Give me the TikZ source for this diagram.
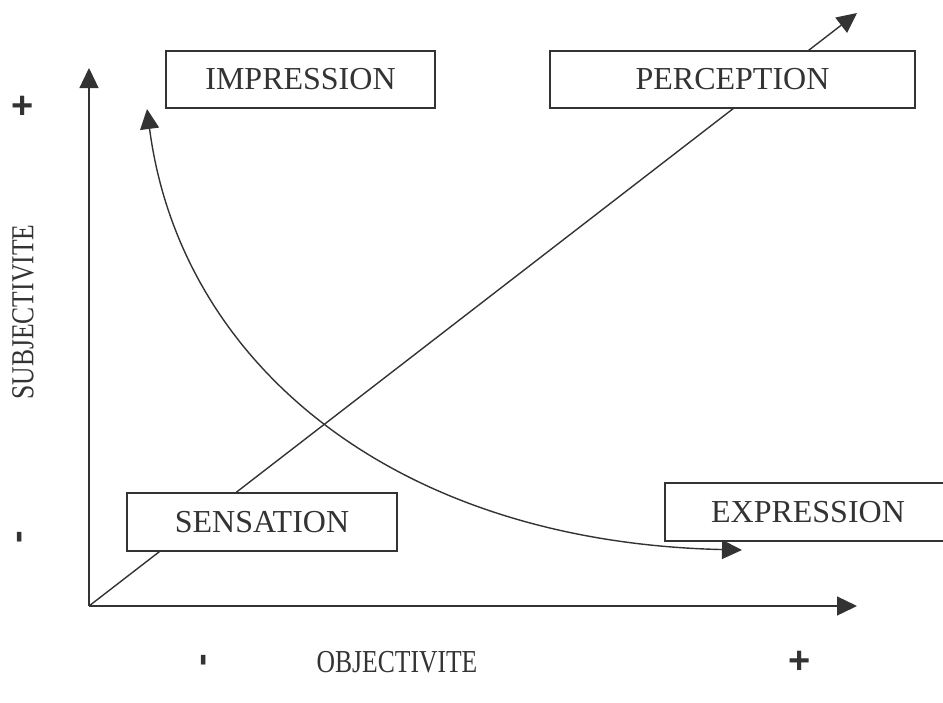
\documentclass[tikz,border=0pt]{standalone}
\usepackage{fontspec}
\setmainfont{Liberation Serif}
\newfontfamily\signfont{Liberation Sans}
\usetikzlibrary{arrows.meta}
\definecolor{ink}{HTML}{333333}
\tikzset{
  stage/.style={draw=ink, fill=white, line width=1.4pt, rectangle, inner sep=0pt,
    minimum height=57pt, text=ink, font=\fontsize{32}{38}\selectfont},
  axislabel/.style={text=ink, inner sep=0pt, font=\fontsize{32}{38}\selectfont},
  sign/.style={text=ink, inner sep=0pt, font=\signfont\bfseries\fontsize{38}{40}\selectfont},
  tip/.style={Triangle[length=20pt,width=19pt]},
  link/.style={draw=ink, line width=1.4pt, -{Triangle[length=20pt,width=19pt]}},
}
\begin{document}
\begin{tikzpicture}[x=1pt,y=-1pt]
\useasboundingbox (0,0) rectangle (943,702);
\clip (0,0) rectangle (943,702);

% axes and the diagonal
\coordinate (o) at (89,606);
\coordinate (ytip) at (89,68);
\coordinate (xtip) at (857,606);
\coordinate (dtip) at (857,13);
\coordinate (cstart) at (147,109);
\coordinate (cend) at (742,550);

\draw[link] (o) -- (ytip);
\draw[link] (o) -- (xtip);
\draw[link] (o) -- (dtip);

% boxes, opaque over the diagonal
\node[stage, minimum width=269pt] (impression) at (300.5,79.5) {IMPRESSION};
\node[stage, minimum width=365pt] (perception) at (732.5,79.5) {PERCEPTION};
\node[stage, minimum width=270pt, minimum height=58pt] (sensation) at (262,522) {SENSATION};
\node[stage, minimum width=286pt, minimum height=58pt] (expression) at (808,512) {EXPRESSION};

% curved double arrow
\draw[draw=ink, line width=1.4pt,
  {Triangle[length=20pt,width=19pt]}-{Triangle[length=20pt,width=19pt]}]
  (cstart) .. controls (180,362) and (392,542) .. (cend);

% axis labels
\node[axislabel, rotate=90] (subj) at (23,312) {\scalebox{0.8}[1]{SUBJECTIVITE}};
\node[axislabel] (obj) at (397,662) {\scalebox{0.8}[1]{OBJECTIVITE}};
\node[sign] (yplus) at (23,107) {+};
\node[sign, rotate=90] (yminus) at (23,537) {-};
\node[sign, rotate=90] (xminus) at (207,660) {-};
\node[sign] (xplus) at (800,662) {+};
\end{tikzpicture}
\end{document}
